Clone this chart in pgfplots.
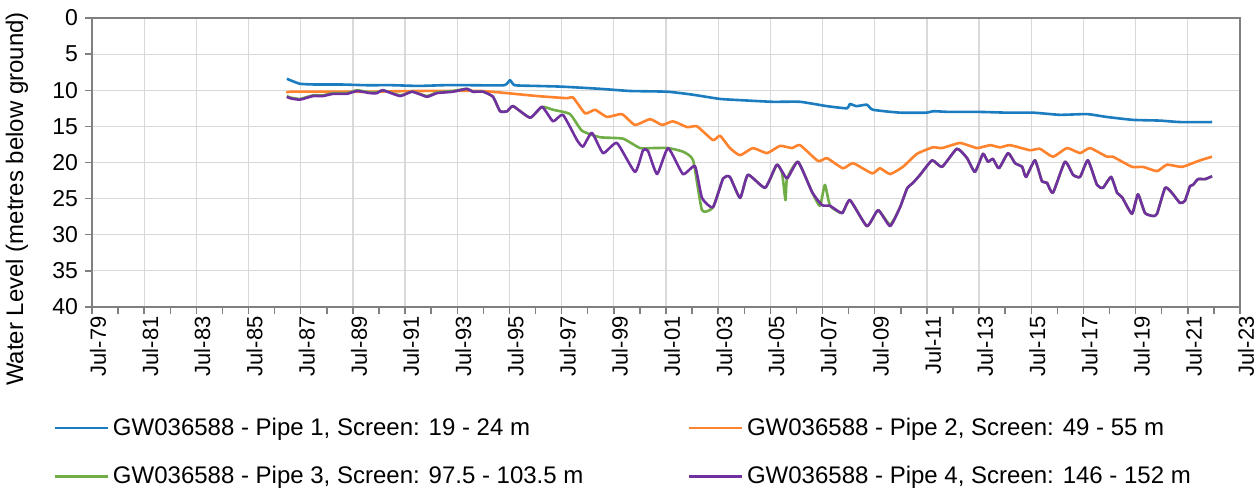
\documentclass[border=0pt]{standalone}
\usepackage{pgfplots}
\pgfplotsset{compat=1.18}
\usepackage{fontspec}
\setmainfont{Liberation Sans}
\definecolor{cblue}{RGB}{28,124,192}
\definecolor{corange}{RGB}{255,130,45}
\definecolor{cgreen}{RGB}{112,173,71}
\definecolor{cpurple}{RGB}{112,48,160}
\definecolor{axgray}{RGB}{128,128,128}
\definecolor{gridgray}{RGB}{217,217,217}
\begin{document}
\begin{tikzpicture}
\begin{axis}[
  scale only axis, width=574pt, height=144.5pt,
  xmin=1979.5, xmax=2023.5, ymin=0, ymax=40, y dir=reverse,
  xtick={1979.5,1981.5,1983.5,1985.5,1987.5,1989.5,1991.5,1993.5,1995.5,1997.5,1999.5,2001.5,2003.5,2005.5,2007.5,2009.5,2011.5,2013.5,2015.5,2017.5,2019.5,2021.5,2023.5},
  xticklabels={Jul-79,Jul-81,Jul-83,Jul-85,Jul-87,Jul-89,Jul-91,Jul-93,Jul-95,Jul-97,Jul-99,Jul-01,Jul-03,Jul-05,Jul-07,Jul-09,Jul-11,Jul-13,Jul-15,Jul-17,Jul-19,Jul-21,Jul-23},
  minor xtick={1980.5,1982.5,1984.5,1986.5,1988.5,1990.5,1992.5,1994.5,1996.5,1998.5,2000.5,2002.5,2004.5,2006.5,2008.5,2010.5,2012.5,2014.5,2016.5,2018.5,2020.5,2022.5},
  ytick={0,5,...,40},
  xmajorgrids, ymajorgrids,
  major grid style={gridgray, line width=0.6pt},
  axis line style={axgray, line width=0.9pt},
  tick style={axgray, line width=0.7pt},
  tick align=outside, major tick length=3.5pt, minor tick length=3.5pt,
  xtick pos=lower, xticklabel pos=lower, ytick pos=left,
  /pgf/number format/assume math mode=true,
  xticklabel style={rotate=90, anchor=east, font=\fontsize{11}{13}\selectfont, inner sep=1pt, yshift=-3pt},
  yticklabel style={font=\fontsize{11.5}{13}\selectfont},
  ylabel={Water Level (metres below ground)},
  ylabel style={at={(axis description cs:-0.0653,0.374)}, anchor=center, font=\fontsize{12}{14}\selectfont},
  legend columns=2,
  legend cell align=left,
  legend style={draw=none, fill=none, at={(axis description cs:-0.0392,-0.355)}, anchor=north west,
    font=\fontsize{12}{14}\selectfont, row sep=10pt,
    /tikz/every even column/.append style={column sep=50pt}},
  legend image code/.code={\draw[#1] (0pt,0pt) -- (26.5pt,0pt);},
  every axis plot/.append style={line width=1.3pt, line join=round, smooth, tension=0.3},
]
\addplot[cblue] coordinates {
(1986.97,8.4)(1987.09,8.6)(1987.47,9.1)(1988.0,9.2)(1989.0,9.2)(1990.0,9.3)(1991.0,9.3)(1992.0,9.4)(1993.0,9.3)(1994.0,9.3)(1995.3,9.3)(1995.52,8.6)(1995.7,9.3)(1996.5,9.4)(1997.5,9.5)(1998.97,9.8)(2000.12,10.1)(2001.54,10.2)(2002.5,10.6)(2003.57,11.2)(2004.5,11.4)(2005.6,11.6)(2006.64,11.6)(2007.67,12.2)(2008.44,12.5)(2008.55,11.9)(2008.8,12.2)(2009.2,12.0)(2009.43,12.7)(2010.47,13.1)(2011.5,13.1)(2011.73,12.9)(2012.39,13.0)(2013.54,13.0)(2014.57,13.1)(2015.57,13.1)(2016.6,13.4)(2017.64,13.3)(2018.4,13.7)(2019.4,14.1)(2020.43,14.2)(2021.2,14.4)(2022.43,14.4)
};
\addlegendentry{GW036588 - Pipe 1, Screen: 19 - 24 m}
\addplot[corange] coordinates {
(1986.97,10.4)(1987.09,10.2)(1988.5,10.2)(1990,10.2)(1992,10.1)(1994.37,10.1)(1995.41,10.4)(1996.56,10.8)(1997.71,11.1)(1997.94,11.0)(1998.4,13.2)(1998.78,12.7)(1999.24,13.7)(1999.81,13.3)(2000.31,14.8)(2000.89,14.0)(2001.35,14.8)(2001.77,14.3)(2002.31,15.1)(2002.69,15.0)(2003.3,16.9)(2003.57,16.3)(2003.95,18.0)(2004.34,19.0)(2004.83,18.0)(2005.37,18.7)(2005.87,17.7)(2006.33,18.0)(2006.64,17.6)(2007.33,19.8)(2007.67,19.4)(2008.28,20.8)(2008.67,20.1)(2009.4,21.5)(2009.7,20.8)(2010.09,21.6)(2010.58,20.6)(2011.12,18.8)(2011.73,17.9)(2012.08,18.0)(2012.77,17.3)(2013.42,18.0)(2013.92,17.6)(2014.3,17.9)(2014.69,17.6)(2015.45,18.3)(2015.83,18.1)(2016.33,19.2)(2016.87,18.0)(2017.37,18.7)(2017.75,18.0)(2018.4,19.2)(2018.63,19.2)(2019.36,20.6)(2019.78,20.6)(2020.32,21.2)(2020.7,20.3)(2021.28,20.6)(2021.97,19.7)(2022.43,19.2)
};
\addlegendentry{GW036588 - Pipe 2, Screen: 49 - 55 m}
\addplot[cgreen] coordinates {
(1986.97,10.8)(1987.09,11.0)(1987.47,11.2)(1987.97,10.7)(1988.35,10.7)(1988.74,10.4)(1989.27,10.4)(1989.66,10.0)(1990.16,10.3)(1990.42,10.3)(1990.65,10.0)(1991.31,10.7)(1991.77,10.2)(1992.34,10.8)(1992.72,10.3)(1993.34,10.1)(1993.87,9.8)(1994.10,10.2)(1994.49,10.2)(1994.87,10.9)(1995.14,12.9)(1995.41,12.9)(1995.64,12.2)(1996.29,13.8)(1996.75,12.3)(1997.17,12.7)(1997.82,13.3)(1998.28,15.6)(1998.97,16.5)(1999.85,16.7)(2000.5,18.0)(2001.0,18.0)(2001.58,18.0)(2002.15,18.5)(2002.54,19.7)(2002.88,26.6)(2003.30,26.2)(2003.69,22.2)(2003.95,22.0)(2004.34,24.9)(2004.64,21.7)(2005.30,23.5)(2005.75,20.3)(2005.95,21.5)(2006.08,25.2)(2006.14,22.2)(2006.56,19.9)(2007.10,24.1)(2007.40,26.0)(2007.59,23.1)(2007.79,26.0)(2008.25,27.0)(2008.55,25.2)(2009.20,28.8)(2009.63,26.6)(2010.09,28.6)(2010.47,26.2)(2010.74,23.6)(2010.97,22.8)(2011.24,21.7)(2011.70,19.7)(2012.08,20.6)(2012.65,18.1)(2013.04,19.4)(2013.34,21.3)(2013.65,18.8)(2013.84,19.9)(2014.03,19.5)(2014.26,20.8)(2014.61,18.7)(2014.88,20.1)(2015.15,20.6)(2015.30,22.0)(2015.64,19.7)(2015.91,22.6)(2016.10,22.8)(2016.33,24.2)(2016.79,19.9)(2017.10,21.7)(2017.37,22.0)(2017.67,19.7)(2018.02,23.1)(2018.25,23.5)(2018.56,22.0)(2018.79,24.2)(2018.98,24.8)(2019.36,27.1)(2019.59,24.4)(2019.86,27.0)(2020.17,27.4)(2020.32,27.1)(2020.63,23.5)(2020.89,24.2)(2021.20,25.6)(2021.39,25.3)(2021.58,23.3)(2021.70,23.1)(2021.89,22.3)(2022.16,22.3)(2022.43,21.9)
};
\addlegendentry{GW036588 - Pipe 3, Screen: 97.5 - 103.5 m}
\addplot[cpurple] coordinates {
(1986.97,10.9)(1987.09,11.1)(1987.47,11.3)(1987.97,10.8)(1988.35,10.8)(1988.74,10.5)(1989.27,10.5)(1989.66,10.1)(1990.16,10.4)(1990.42,10.4)(1990.65,10.0)(1991.31,10.8)(1991.77,10.2)(1992.34,10.9)(1992.72,10.4)(1993.34,10.2)(1993.87,9.8)(1994.10,10.2)(1994.49,10.2)(1994.87,10.9)(1995.14,12.9)(1995.41,12.9)(1995.64,12.2)(1996.29,13.8)(1996.75,12.3)(1997.17,14.3)(1997.55,13.4)(1998.09,16.9)(1998.32,17.8)(1998.66,15.9)(1999.09,18.7)(1999.62,17.3)(2000.31,21.3)(2000.62,18.3)(2000.81,18.4)(2001.16,21.6)(2001.58,18.0)(2002.15,21.6)(2002.61,20.5)(2002.88,24.9)(2003.30,26.2)(2003.69,22.2)(2003.95,22.0)(2004.34,24.9)(2004.64,21.7)(2005.30,23.5)(2005.75,20.3)(2006.14,22.2)(2006.56,19.9)(2007.10,24.1)(2007.48,25.9)(2007.79,26.0)(2008.25,27.0)(2008.55,25.2)(2009.20,28.8)(2009.63,26.6)(2010.09,28.8)(2010.47,26.2)(2010.74,23.6)(2010.97,22.8)(2011.24,21.7)(2011.70,19.7)(2012.08,20.6)(2012.65,18.1)(2013.04,19.4)(2013.34,21.3)(2013.65,18.8)(2013.84,19.9)(2014.03,19.5)(2014.26,20.8)(2014.61,18.7)(2014.88,20.1)(2015.15,20.6)(2015.30,22.0)(2015.64,19.7)(2015.91,22.6)(2016.10,22.8)(2016.33,24.2)(2016.79,19.9)(2017.10,21.7)(2017.37,22.0)(2017.67,19.7)(2018.02,23.1)(2018.25,23.5)(2018.56,22.0)(2018.79,24.2)(2018.98,24.8)(2019.36,27.1)(2019.59,24.4)(2019.86,27.0)(2020.17,27.4)(2020.32,27.1)(2020.63,23.5)(2020.89,24.2)(2021.20,25.6)(2021.39,25.3)(2021.58,23.3)(2021.70,23.1)(2021.89,22.3)(2022.16,22.3)(2022.43,21.9)
};
\addlegendentry{GW036588 - Pipe 4, Screen: 146 - 152 m}
\end{axis}
\pgfresetboundingbox
\path[use as bounding box] (-46pt,-92pt) rectangle (583pt,153.5pt);
\end{tikzpicture}
\end{document}
